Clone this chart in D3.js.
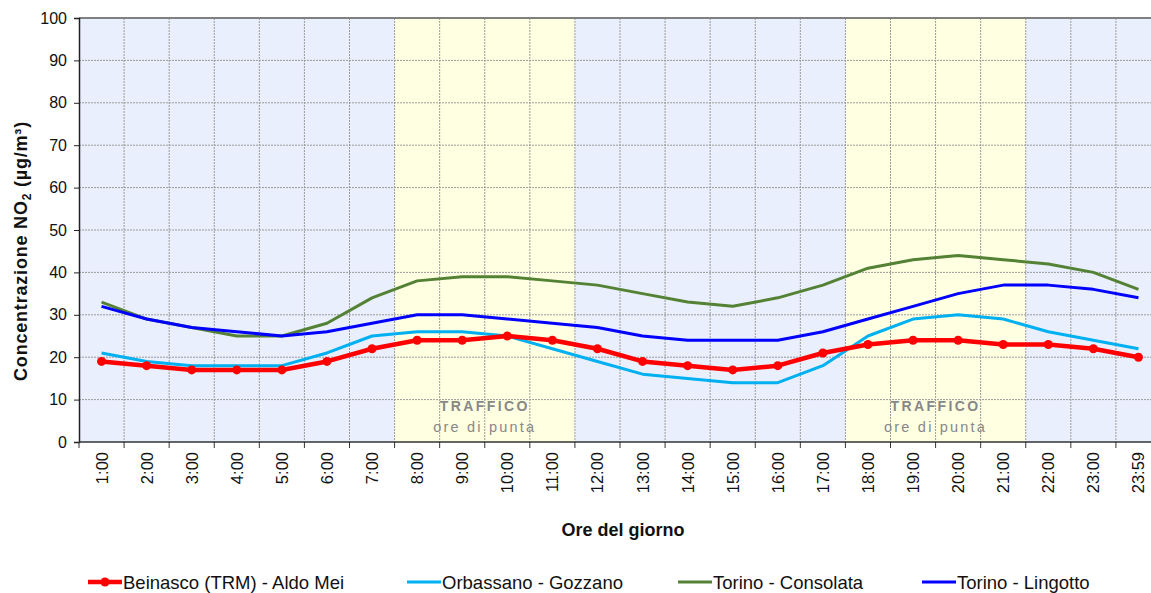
<!DOCTYPE html>
<html>
<head>
<meta charset="utf-8">
<script src="https://cdnjs.cloudflare.com/ajax/libs/d3/7.8.5/d3.min.js"></script>
<style>
  body { margin: 0; background: #fff; }
  svg { display: block; font-family: "Liberation Sans", Arial, sans-serif; }
</style>
</head>
<body>
<div id="chart-area"></div>
<script>
// Categories (hours of the day)
var hours = ["1:00", "2:00", "3:00", "4:00", "5:00", "6:00", "7:00", "8:00", "9:00", "10:00",
    "11:00", "12:00", "13:00", "14:00", "15:00", "16:00", "17:00", "18:00", "19:00", "20:00",
    "21:00", "22:00", "23:00", "23:59"];

// NO2 series (µg/m³)
var beinasco   = [19, 18, 17, 17, 17, 19, 22, 24, 24, 25, 24, 22, 19, 18, 17, 18, 21, 23, 24, 24, 23, 23, 22, 20];
var orbassano  = [21, 19, 18, 18, 18, 21, 25, 26, 26, 25, 22, 19, 16, 15, 14, 14, 18, 25, 29, 30, 29, 26, 24, 22];
var consolata  = [33, 29, 27, 25, 25, 28, 34, 38, 39, 39, 38, 37, 35, 33, 32, 34, 37, 41, 43, 44, 43, 42, 40, 36];
var lingotto   = [32, 29, 27, 26, 25, 26, 28, 30, 30, 29, 28, 27, 25, 24, 24, 24, 26, 29, 32, 35, 37, 37, 36, 34];

var seriesNames = ["Beinasco (TRM) - Aldo Mei", "Orbassano - Gozzano", "Torino - Consolata", "Torino - Lingotto"];

// Rush hour windows (first and last hour in each)
var rushWindows = [["8:00", "11:00"], ["18:00", "21:00"]];

var yTicks = [0, 10, 20, 30, 40, 50, 60, 70, 80, 90, 100];

var margin = { left: 79, right: -10, top: 18, bottom: 151 },
    totalW = 1151, totalH = 593,
    width = totalW - margin.left - margin.right,
    height = totalH - margin.top - margin.bottom;

var svg = d3.select("#chart-area").append("svg")
    .attr("width", totalW)
    .attr("height", totalH);

var g = svg.append("g")
    .attr("transform", "translate(" + margin.left + "," + margin.top + ")");

// Scales
var x_scale = d3.scaleBand().domain(hours).range([0, width]).padding(0);
var y_scale = d3.scaleLinear().domain([0, 100]).range([height, 0]);
var xc = function(h) { return x_scale(h) + x_scale.bandwidth() / 2; };

// Background
g.append("rect")
    .attr("width", width)
    .attr("height", height)
    .attr("fill", "#E9EFFC");

// Traffic windows
rushWindows.forEach(function(w) {
    var x0 = x_scale(w[0]), x1 = x_scale(w[1]) + x_scale.bandwidth();
    g.append("rect")
        .attr("x", x0)
        .attr("width", x1 - x0)
        .attr("height", height)
        .attr("fill", "#FFFFE1");
});

// Grid lines
g.selectAll(".hgrid")
    .data(yTicks.slice(1, -1))
    .enter().append("line")
    .attr("x1", 0).attr("x2", width)
    .attr("y1", function(d) { return y_scale(d); })
    .attr("y2", function(d) { return y_scale(d); })
    .attr("stroke", "#9a9a9a")
    .attr("stroke-width", 1)
    .attr("stroke-dasharray", "2,1");

g.selectAll(".vgrid")
    .data(hours.slice(1))
    .enter().append("line")
    .attr("x1", function(d) { return x_scale(d); })
    .attr("x2", function(d) { return x_scale(d); })
    .attr("y1", 0).attr("y2", height)
    .attr("stroke", "#9a9a9a")
    .attr("stroke-width", 1)
    .attr("stroke-dasharray", "2,1");

// Top border
g.append("line")
    .attr("x1", 0).attr("x2", width)
    .attr("y1", 0).attr("y2", 0)
    .attr("stroke", "#808080")
    .attr("stroke-width", 2);

// Traffic labels
rushWindows.forEach(function(w) {
    var cx = (x_scale(w[0]) + x_scale(w[1]) + x_scale.bandwidth()) / 2;
    g.append("text")
        .attr("x", cx)
        .attr("y", y_scale(7.4))
        .attr("text-anchor", "middle")
        .attr("font-size", "14px")
        .attr("font-weight", "bold")
        .attr("letter-spacing", "2.4px")
        .attr("fill", "#888888")
        .text("TRAFFICO");
    g.append("text")
        .attr("x", cx)
        .attr("y", y_scale(2.4))
        .attr("text-anchor", "middle")
        .attr("font-size", "14.5px")
        .attr("letter-spacing", "2.2px")
        .attr("fill", "#888888")
        .text("ore di punta");
});

// Axes
var yAxis = g.append("g")
    .call(d3.axisLeft(y_scale).tickValues(yTicks).tickSize(5).tickPadding(7));
yAxis.select(".domain").attr("stroke", "#222").attr("stroke-width", 1.5);
yAxis.selectAll(".tick line").attr("stroke", "#222");
yAxis.selectAll(".tick text").attr("font-size", "16px").attr("fill", "#111")
    .attr("font-family", "Liberation Sans, Arial, sans-serif");

var xAxis = g.append("g")
    .attr("transform", "translate(0," + height + ")");
xAxis.append("line")
    .attr("x1", 0).attr("x2", width)
    .attr("stroke", "#333").attr("stroke-width", 1.5);
xAxis.selectAll(".xtick")
    .data(hours.concat(["__end"]))
    .enter().append("line")
    .attr("x1", function(d, i) { return i * x_scale.bandwidth(); })
    .attr("x2", function(d, i) { return i * x_scale.bandwidth(); })
    .attr("y1", 0).attr("y2", 6)
    .attr("stroke", "#333");
xAxis.selectAll(".xlab")
    .data(hours)
    .enter().append("text")
    .attr("transform", function(d) {
        return "translate(" + (xc(d) + 6) + ",10) rotate(-90)";
    })
    .attr("text-anchor", "end")
    .attr("font-size", "16.5px")
    .attr("fill", "#111")
    .text(function(d) { return d; });

// Axis titles
svg.append("text")
    .attr("x", 623)
    .attr("y", 536)
    .attr("text-anchor", "middle")
    .attr("font-size", "18px")
    .attr("font-weight", "bold")
    .attr("fill", "#111")
    .text("Ore del giorno");

var yl = svg.append("text")
    .attr("transform", "translate(27," + 251 + ") rotate(-90)")
    .attr("text-anchor", "middle")
    .attr("font-size", "18px")
    .attr("font-weight", "bold")
    .attr("letter-spacing", "0.8px")
    .attr("fill", "#111");
yl.append("tspan").text("Concentrazione NO");
yl.append("tspan").attr("font-size", "12px").attr("dy", 4).text("2");
yl.append("tspan").attr("dy", -4).text(" (µg/m³)");

// Lines
var line = d3.line()
    .x(function(d, i) { return xc(hours[i]); })
    .y(function(d) { return y_scale(d); });

var series = [
    { name: seriesNames[0], values: beinasco,  color: "#FF0000", w: 4.5, marker: true },
    { name: seriesNames[1], values: orbassano, color: "#00B0F0", w: 3,   marker: false },
    { name: seriesNames[2], values: consolata, color: "#548235", w: 3,   marker: false },
    { name: seriesNames[3], values: lingotto,  color: "#0000FF", w: 3,   marker: false }
];

// draw order: green, cyan, blue, red on top
[2, 1, 3, 0].forEach(function(k) {
    var s = series[k];
    g.append("path")
        .attr("fill", "none")
        .attr("stroke", s.color)
        .attr("stroke-width", s.w)
        .attr("stroke-linejoin", "round")
        .attr("d", line(s.values));
    if (s.marker) {
        g.selectAll(".pt")
            .data(s.values)
            .enter().append("circle")
            .attr("cx", function(d, i) { return xc(hours[i]); })
            .attr("cy", function(d) { return y_scale(d); })
            .attr("r", 4.5)
            .attr("fill", s.color);
    }
});

// Legend (kept just inside the bottom edge)
var legendX = [88, 407, 678, 922];
series.forEach(function(s, i) {
    var lg = svg.append("g").attr("transform", "translate(" + legendX[i] + ",582)");
    lg.append("line")
        .attr("x1", 0).attr("x2", 34)
        .attr("stroke", s.color)
        .attr("stroke-width", s.marker ? 4.5 : 3);
    if (s.marker) {
        lg.append("circle").attr("cx", 17).attr("r", 4.5).attr("fill", s.color);
    }
    lg.append("text")
        .attr("x", 35)
        .attr("y", 6.5)
        .attr("font-size", "18.5px")
        .attr("fill", "#111")
        .text(s.name);
});
</script>
</body>
</html>
